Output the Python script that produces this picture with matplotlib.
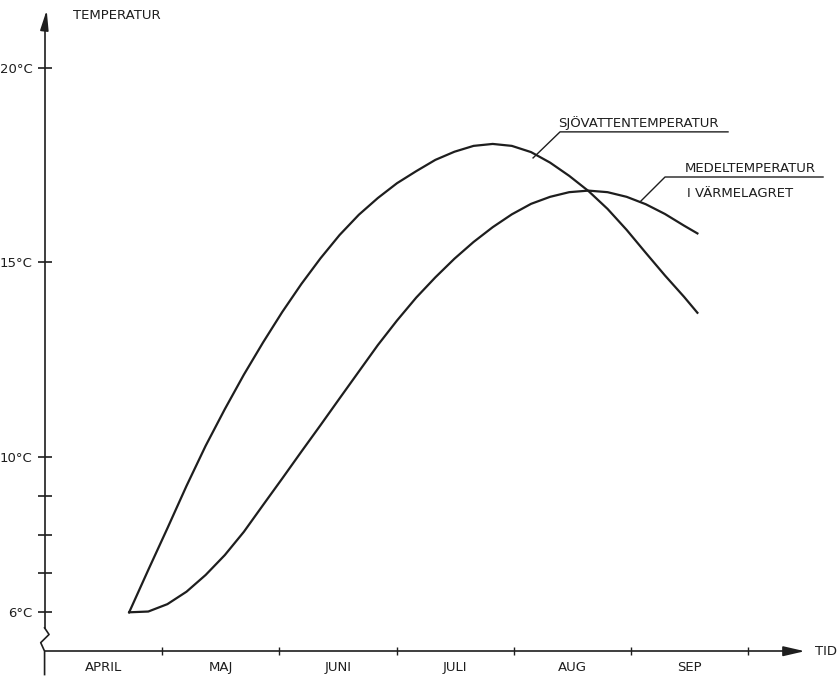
import matplotlib
matplotlib.use("Agg")
import matplotlib.pyplot as plt

# time axis in months from 1 April, temperature in degC
months = ["APRIL", "MAJ", "JUNI", "JULI", "AUG", "SEP"]

# Sjövattentemperatur
sea_t = [0.721, 0.884, 1.047, 1.210, 1.373, 1.536, 1.699, 1.863, 2.026, 2.189,
         2.352, 2.515, 2.679, 2.841, 3.004, 3.168, 3.331, 3.494, 3.657, 3.820,
         3.983, 4.147, 4.309, 4.472, 4.636, 4.799, 4.962, 5.125, 5.288, 5.451,
         5.565]
sea_temp = [6.0, 7.09, 8.16, 9.25, 10.28, 11.22, 12.11, 12.94, 13.72, 14.44,
            15.10, 15.70, 16.22, 16.65, 17.03, 17.34, 17.63, 17.84, 17.99, 18.04,
            17.99, 17.83, 17.56, 17.22, 16.83, 16.37, 15.83, 15.24, 14.66, 14.11,
            13.70]

# Medeltemperatur i värmelagret
store_t = sea_t
store_temp = [6.0, 6.02, 6.21, 6.53, 6.96, 7.47, 8.07, 8.76, 9.44, 10.13,
              10.81, 11.50, 12.19, 12.87, 13.50, 14.09, 14.61, 15.09, 15.52, 15.90,
              16.23, 16.50, 16.68, 16.80, 16.84, 16.80, 16.68, 16.49, 16.24, 15.94,
              15.74]

ytick_vals = [6, 7, 8, 9, 10, 15, 20]
ytick_labels = ["6°C", "", "", "", "10°C", "15°C", "20°C"]

ink = "#1e1e1e"
fs = 9.5

fig = plt.figure(figsize=(8.39, 6.77), dpi=100)
ax = fig.add_axes([0, 0, 1, 1])
ax.set_xlim(-0.380, 6.772)
ax.set_ylim(4.337, 21.74)

# curves
ax.plot(sea_t, sea_temp, color=ink, lw=1.6, solid_joinstyle="round")
ax.plot(store_t, store_temp, color=ink, lw=1.6, solid_joinstyle="round")

# axes with break on the temperature axis
for side in ["top", "right"]:
    ax.spines[side].set_visible(False)
ax.spines["left"].set_position(("data", 0))
ax.spines["bottom"].set_position(("data", 5.0))
ax.spines["left"].set_bounds(5.6, 21.1)
ax.spines["bottom"].set_bounds(0, 6.4)
for side in ["left", "bottom"]:
    ax.spines[side].set_color(ink)
    ax.spines[side].set_linewidth(1.2)

# zigzag break + stub below the time axis
ax.plot([0, 0.038, -0.033, 0, 0], [5.6, 5.43, 5.22, 5.0, 4.4], color=ink, lw=1.2)

# arrowheads
ax.annotate("", xy=(6.48, 5.0), xytext=(6.3, 5.0),
            arrowprops=dict(arrowstyle="-|>,head_length=1.3,head_width=0.3",
                            color=ink, lw=1.2, mutation_scale=10, shrinkA=0, shrinkB=0))
ax.annotate("", xy=(0.018, 21.48), xytext=(0.0, 21.0),
            arrowprops=dict(arrowstyle="-|>,head_length=1.2,head_width=0.25",
                            color=ink, lw=1.2, mutation_scale=10, shrinkA=0, shrinkB=0))

ax.set_yticks(ytick_vals)
ax.set_yticklabels(ytick_labels)
ax.tick_params(axis="y", direction="inout", length=9.5, width=1.2, color=ink,
               pad=4, labelsize=fs, labelcolor=ink)

ax.set_xticks(range(1, 7))
ax.set_xticklabels([])
ax.set_xticks([i + 0.5 for i in range(len(months))], minor=True)
ax.set_xticklabels(months, minor=True)
ax.tick_params(axis="x", which="major", direction="inout", length=6, width=1.0, color=ink)
ax.tick_params(axis="x", which="minor", length=0, pad=7, labelsize=fs, labelcolor=ink)

ax.text(0.242, 21.33, "TEMPERATUR", fontsize=fs, color=ink, va="center", ha="left")
ax.text(6.568, 5.0, "TID", fontsize=fs, color=ink, va="center", ha="left")

# leader lines and curve labels
ax.plot([4.164, 4.394, 5.826], [17.68, 18.35, 18.35], color=ink, lw=1.0)
ax.text(4.375, 18.48, "SJÖVATTENTEMPERATUR", fontsize=fs, color=ink,
        va="baseline", ha="left")

ax.plot([5.076, 5.289, 6.636], [16.55, 17.19, 17.19], color=ink, lw=1.0)
ax.text(5.46, 17.31, "MEDELTEMPERATUR", fontsize=fs, color=ink,
        va="baseline", ha="left")
ax.text(5.48, 16.93, "I VÄRMELAGRET", fontsize=fs, color=ink,
        va="top", ha="left")

fig.savefig("out.png", dpi=100, facecolor="white")
